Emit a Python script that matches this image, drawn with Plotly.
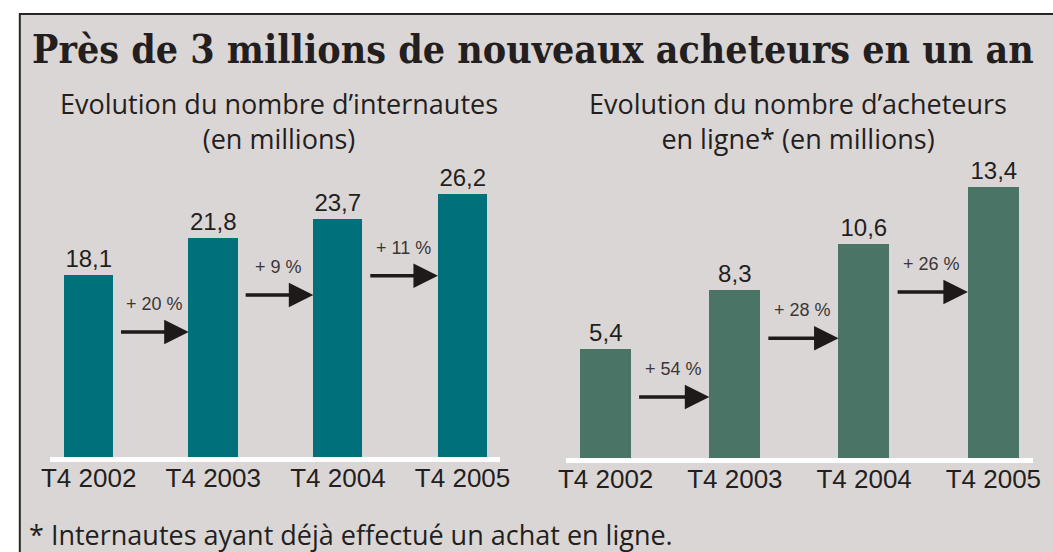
import plotly.graph_objects as go

# --- data -----------------------------------------------------------------
quarters = ["T4 2002", "T4 2003", "T4 2004", "T4 2005"]
internautes = [18.1, 21.8, 23.7, 26.2]           # millions
acheteurs = [5.4, 8.3, 10.6, 13.4]               # millions
growth_internautes = ["+ 20 %", "+ 9 %", "+ 11 %"]
growth_acheteurs = ["+ 54 %", "+ 28 %", "+ 26 %"]

title = "Près de 3 millions de nouveaux acheteurs en un an"
subtitle_left = ["Evolution du nombre d\u2019internautes", "(en millions)"]
subtitle_right = ["Evolution du nombre d\u2019acheteurs", "en ligne* (en millions)"]
footnote = "* Internautes ayant déjà effectué un achat en ligne."

# --- layout helpers (pixel -> paper) ---------------------------------------
W, H = 1053, 552
def fx(px):
    return px / W
def fy(py):
    return 1 - py / H

BG = "#dbd6d6"
TEAL = "#00717a"
GREEN = "#4a7566"
SANS = "Liberation Sans, Arial, sans-serif"
HUMAN = "Open Sans, DejaVu Sans, sans-serif"
SERIF = "DejaVu Serif Condensed, DejaVu Serif, serif"
TEXT = "#231f20"

BAR_W = 0.395

fig = go.Figure()

panels = [
    dict(x="x", y="y", vals=internautes, color=TEAL, growth=growth_internautes,
         xdom=(42, 500), ybot=457, pxu=10.05, xr=(-0.308, 3.304), shift=-57),
    dict(x="x2", y="y2", vals=acheteurs, color=GREEN, growth=growth_acheteurs,
         xdom=(567, 1042), ybot=458, pxu=20.2, xr=(-0.304, 3.308), shift=-48),
]
YTOP = 150

annotations = []
for p in panels:
    idx = list(range(len(quarters)))
    fig.add_trace(go.Bar(
        x=idx, y=p["vals"], xaxis=p["x"], yaxis=p["y"],
        width=BAR_W, marker=dict(color=p["color"], line=dict(width=0)),
        texttemplate="%{y:.1f}", textposition="outside", constraintext="none",
        textfont=dict(family=SANS, size=24, color=TEXT),
        cliponaxis=False, showlegend=False, hoverinfo="skip",
    ))
    # growth arrows between consecutive bars
    for i, label in enumerate(p["growth"]):
        tail = i + BAR_W / 2 + 0.05
        head = i + 1 - BAR_W / 2
        annotations.append(dict(
            xref=p["x"], yref=p["y"], x=head, y=p["vals"][i],
            axref=p["x"], ayref=p["y"], ax=tail, ay=p["vals"][i],
            yshift=p["shift"], text="", showarrow=True,
            arrowhead=2, arrowsize=1.4, arrowwidth=3.5, arrowcolor="#1e1a1a",
            standoff=0, startstandoff=0,
        ))
        annotations.append(dict(
            xref=p["x"], yref=p["y"], x=(tail + head) / 2, y=p["vals"][i],
            yshift=p["shift"] + 28, text=label, showarrow=False,
            font=dict(family=SANS, size=18, color="#3a3636"),
            xanchor="center", yanchor="middle",
        ))

layout_axes = {}
for n, p in enumerate(panels, start=1):
    sfx = "" if n == 1 else str(n)
    layout_axes["xaxis" + sfx] = dict(
        domain=[fx(p["xdom"][0]), fx(p["xdom"][1])], range=list(p["xr"]),
        anchor=p["y"], tickmode="array", tickvals=list(range(len(quarters))),
        ticktext=quarters, showgrid=False, zeroline=False,
        showline=True, linecolor="white", linewidth=5, ticks="",
        ticklabelstandoff=-6,
        tickfont=dict(family=SANS, size=26, color=TEXT), fixedrange=True,
    )
    layout_axes["yaxis" + sfx] = dict(
        domain=[fy(p["ybot"]), fy(YTOP)],
        range=[0, (p["ybot"] - YTOP) / p["pxu"]], anchor=p["x"],
        visible=False, fixedrange=True,
    )

# titles and footnote
annotations.append(dict(
    xref="paper", yref="paper", x=fx(21), y=fy(49), text="<b>" + title + "</b>",
    showarrow=False, xanchor="left", yanchor="middle",
    font=dict(family=SERIF, size=39, color=TEXT),
))
for lines, cx in ((subtitle_left, 275), (subtitle_right, 803)):
    annotations.append(dict(
        xref="paper", yref="paper", x=fx(cx), y=fy(121), text="<br>".join(lines),
        showarrow=False, xanchor="center", yanchor="middle", align="center",
        font=dict(family=HUMAN, size=27, color=TEXT), borderpad=0,
    ))
annotations.append(dict(
    xref="paper", yref="paper", x=fx(19), y=fy(534), text=footnote,
    showarrow=False, xanchor="left", yanchor="middle", borderpad=0,
    font=dict(family=HUMAN, size=27, color=TEXT),
))

fig.update_layout(
    width=W, height=H, margin=dict(l=0, r=0, t=0, b=0),
    paper_bgcolor="white", plot_bgcolor="rgba(0,0,0,0)",
    separators=", ", bargap=0, annotations=annotations,
    shapes=[dict(type="rect", xref="paper", yref="paper",
                 x0=fx(11), x1=1.05, y0=-0.05, y1=fy(14),
                 line=dict(color="#2a2626", width=2), fillcolor=BG, layer="below")],
    **layout_axes,
)

fig.write_html("out.html")
